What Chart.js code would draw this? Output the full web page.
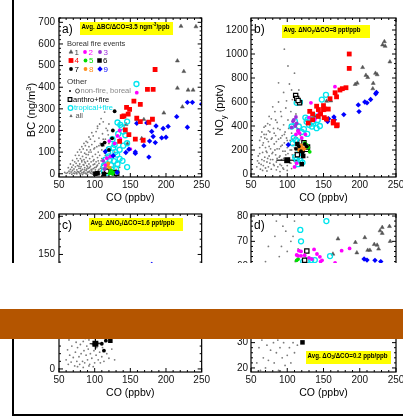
<!DOCTYPE html>
<html>
<head>
<meta charset="utf-8">
<script src="https://cdn.jsdelivr.net/npm/chart.js@4.4.0/dist/chart.umd.min.js"></script>
<style>
body { margin:0; width:403px; height:416px; position:relative; background:#fff; overflow:hidden; }
canvas { position:absolute; }
#frameL { position:absolute; left:12px; top:0; width:2px; height:416px; background:#000; }
#frameB { position:absolute; left:12px; top:414px; width:391px; height:2px; background:#000; }
#gap { position:absolute; left:0; top:263px; width:403px; height:46px; background:#fff; }
#band { position:absolute; left:0; top:309px; width:403px; height:30px; background:#b45500; }
</style>
</head>
<body>
<div id="frameL"></div>
<div id="frameB"></div>
<canvas id="ca" width="212" height="207" style="left:0;top:0"></canvas>
<canvas id="cb" width="205" height="207" style="left:205px;top:0"></canvas>
<canvas id="cc" width="212" height="207" style="left:0;top:196px"></canvas>
<canvas id="cd" width="205" height="207" style="left:205px;top:196px"></canvas>
<div id="gap"></div>
<div id="band"></div>
<script>
// ---- data: [CO (ppbv), value] pairs ----

// panel a) BC (ng/m3)
const aAll = [[62,5],[64,12],[65,2],[66,20],[67,8],[68,30],[69,15],[70,3],[70,40],[71,22],[72,10],[72,55],[73,32],[74,5],[74,48],[75,18],[75,70],[76,38],[77,9],[77,60],[78,25],[78,85],[79,45],[80,12],[80,70],[81,33],[81,100],[82,55],[82,4],[83,20],[83,80],[84,42],[84,115],[85,65],[85,10],[86,28],[86,95],[87,50],[87,130],[88,15],[88,75],[89,38],[89,110],[90,6],[90,58],[90,145],[91,25],[91,88],[92,45],[92,125],[93,12],[93,70],[94,160],[94,35],[95,100],[95,55],[96,20],[96,135],[97,80],[97,5],[98,175],[98,42],[99,115],[99,65],[100,28],[100,150],[101,90],[101,10],[102,195],[102,55],[103,125],[103,35],[104,75],[104,210],[105,15],[105,100],[106,165],[106,48],[107,230],[107,85],[108,25],[108,140],[109,60],[109,255],[110,110],[110,8],[111,185],[111,40],[112,70],[112,240],[113,130],[113,20],[114,285],[114,95],[115,160],[115,50],[116,30],[116,210],[117,120],[118,75],[118,10],[119,180],[120,45],[120,140],[121,90],[122,25],[123,110],[124,60],[125,15],[126,80],[127,40],[128,100],[130,20],[132,55],[135,30],[75,0],[80,-2],[85,3],[90,-3],[95,2],[88,0],[92,8],[97,-2],[103,3],[107,-1],[111,2],[68,-2],[72,1],[78,6],[83,-4],[100,0],[105,-3],[60,2],[58,6],[63,28],[66,45],[69,62],[73,85],[76,100],[79,112],[82,125],[85,140],[88,150],[92,170],[96,190],[104,220],
  [76,10],[79,2],[81,15],[84,6],[86,18],[87,3],[89,22],[91,10],[93,28],[94,4],[96,12],[98,24],[99,6],[101,18],[102,30],[103,8],[104,40],[106,20],[106,4],[108,12],[109,32],[110,22],[112,8],[113,45],[114,14],[116,6],[117,35],[119,22],[121,6],[123,30],[80,25],[85,40],[90,32],[95,18],[100,45],[105,60],[110,70],[115,85],[82,62],[88,90],[94,110],[100,120],[106,130],[112,160],[118,200],[120,230],[98,60],[92,100],[86,55],[78,35]];
const aEv1 = [[221,682],[242,680],[216,522],[225,473],[216,396],[231,387],[238,387],[223,309],[197,281],[159,251],[169,251],[144,228],[146,139],[166,163]];
const aEv2 = [[159,375],[135,200],[136,161],[120.5,151],[150,114],[122,80],[117,72],[132,175],[128,140],[115,40]];
const aEv3 = [[112,60],[114,22]];
const aEv4 = [[184.7,482],[174,390],[182,390],[155,336],[164,321],[149,298],[144.7,307],[138.6,264],[141,267],[147,276],[164,241],[176,238],[143,203],[157,160],[168,155],[135,150],[148,181],[159,257],[181,252]];
const aEv5 = [[122.7,11],[124,3],[125,0],[123,16],[126,6],[121,2]];
const aEv6 = [[101,0],[104,2],[113,-2]];
const aEv7 = [[128,289],[125.5,200],[124.5,164],[114,144],[110.6,134],[120,110]];
const aEv8 = [[119,48],[121,28],[118,36]];
const aEv9 = [[230,330],[237,330],[250,322],[215,264],[230,215],[159,233],[173,235],[186,221],[196,209],[203,219],[200,169],[194,166],[180,195],[182,172],[185,144],[177,151],[169,130],[148,113],[157,101],[176,77],[126,83],[115,103],[143.7,98],[157,94],[131.5,6]];
const aAnthro = [[128,5],[131,2],[117,12]];
const aTrop = [[158.6,415],[132,237],[136,226],[138,215],[145.5,241],[133,184],[143,178],[140,195],[145.5,141],[128,134],[120,114],[126,120],[135,111],[131.5,88],[120,80],[115,65],[121,65],[127,58],[135,69],[139,60],[145.5,31],[113,37],[117,28],[123,40],[132,45],[113,11],[118,5],[124,18],[130,22],[119,95],[129,100],[140,130],[125,160]];

// panel b) NOy (pptv)
const bAll = [[58,60],[60,150],[61,90],[62,220],[63,40],[64,310],[65,120],[66,180],[67,70],[67,260],[68,390],[69,140],[70,50],[70,220],[71,330],[72,100],[72,180],[73,420],[74,60],[74,270],[75,150],[76,350],[76,90],[77,210],[78,40],[78,460],[79,300],[80,120],[80,180],[81,380],[82,70],[82,250],[83,520],[84,160],[84,320],[85,100],[86,430],[86,210],[87,60],[88,290],[88,600],[89,140],[90,370],[90,80],[91,230],[92,480],[92,120],[93,320],[94,50],[94,190],[95,680],[95,410],[96,260],[97,100],[97,350],[98,160],[98,550],[99,300],[100,70],[100,220],[101,450],[102,130],[102,380],[103,750],[104,200],[104,280],[105,90],[105,520],[106,340],[107,160],[107,620],[108,240],[109,110],[109,420],[110,300],[110,840],[111,180],[112,60],[112,500],[113,260],[114,380],[115,140],[116,700],[117,220],[118,320],[120,160],[122,260],[125,200],[128,140],[96,1040],[88,760],[101,900],[65,350],[62,280],[59,110],[70,400],[75,480],[80,560],[66,30],[72,25],[85,35],[90,20],[95,40],[100,30],[106,45],
  [62,170],[64,80],[66,240],[68,110],[69,300],[71,190],[73,130],[74,360],[75,230],[77,120],[78,290],[79,170],[81,80],[82,340],[83,200],[85,270],[86,130],[87,380],[89,210],[90,150],[91,300],[92,70],[93,240],[95,130],[96,330],[97,190],[99,110],[100,280],[101,170],[103,240],[104,90],[106,200],[107,290],[108,140],[110,220],[111,100],[113,170],[114,300],[116,120],[117,280],[119,200],[121,130],[123,180],[68,330],[72,290],[76,410],[84,450],[91,520],[99,610],[106,700]];
const bEv1 = [[231.5,1076],[234,1104],[235,1065],[241.6,935],[204,888],[208.5,823],[211,805],[221.7,840],[224,828],[218.6,756],[218,711],[196.5,758],[193.7,747],[169,396],[154.3,607],[160,610],[138,480]];
const bEv2 = [[165.8,728],[142.8,540],[138,455],[132.7,593],[125,330],[115,354],[117,340],[112,330],[120,300],[110,59],[113,90],[144,505],[130,470]];
const bEv3 = [[112,475],[109,450],[113,422],[106,388],[111,400],[115,365],[108,440]];
const bEv4 = [[185.5,1000],[185.5,880],[181,719],[176,711],[172.7,700],[168,643],[166,677],[159,627],[151,542],[150,570],[140.5,565],[156.6,541],[150,536],[143,537],[142.8,480],[146,500],[135,500],[131,522],[135,452],[129,425],[151,470],[154,458],[163.5,438],[163.4,425],[169,410],[168,402]];
const bEv5 = [[131,185],[126.7,242],[129,220],[124,260]];
const bEv6 = [[120,82],[114,250],[122,150]];
const bEv7 = [[124.4,250],[116,230],[119,190],[112,210],[127,230],[121,175]];
const bEv8 = [[117.5,214],[120,222],[116,200],[122,205],[119,240],[124,215]];
const bEv9 = [[222,669],[223,680],[215,621],[210,593],[207,600],[198,576],[199,520],[178,495],[164.4,475],[157,460],[165,452],[155.7,438],[101.4,244]];
const bAnthro = [[111.6,655],[113,630],[117,593],[115,612],[126.7,205],[120,200],[128,225],[123,260],[114,160]];
const bTrop = [[153.4,660],[147.7,620],[117.5,598],[113,593],[110.6,438],[116,396],[126.7,435],[131,458],[138.2,480],[123,374],[127.6,334],[140.5,382],[135,440],[107.5,256],[112,280],[115.2,166],[111,140],[115,82],[118,110],[121,95],[113,120],[120,350],[106,396],[130,410],[134,395],[145,400],[136,420],[142,450],[125,470],[128,455],[109,300],[118,270]];
const bMean = [[100,115]];
const bMeanErr = [[85,115],[115,115]];

// panel c) NOz (pptv)
const cAll = [[60,12],[62,25],[63,6],[64,38],[65,18],[66,50],[67,9],[68,30],[69,62],[70,15],[71,42],[72,4],[72,75],[73,22],[74,35],[75,10],[75,55],[76,28],[77,85],[78,16],[78,44],[79,6],[80,32],[80,65],[81,20],[82,48],[83,10],[83,90],[84,36],[85,24],[86,58],[86,8],[87,40],[88,18],[88,72],[89,30],[90,12],[90,50],[91,26],[92,38],[93,6],[93,66],[94,20],[95,44],[96,14],[97,32],[98,56],[99,24],[100,8],[101,40],[102,18],[103,28],[104,50],[105,12],[106,34],[107,22],[108,8],[109,42],[110,16],[111,28],[113,10],[115,36],[117,20],[120,14],[124,26],[128,12],[76,3],[84,2],[92,4],[98,3]];
const cEv6 = [[122,37]];
const cEv7 = [[110,33],[115.7,37],[113,24]];
const cEv9 = [[180,137]];
const cMean = [[101,33]];
const cMeanErrX = [[93,33],[108,33]];
const cMeanErrY = [[101,25],[101,40]];

// panel d) O3 (ppbv)
const dAll = [[58,22],[60,35],[61,28],[62,48],[63,19],[64,40],[65,31],[66,56],[67,24],[68,44],[69,36],[70,20],[70,62],[71,50],[72,29],[73,41],[74,68],[74,23],[75,34],[76,52],[77,27],[78,45],[78,18],[79,38],[80,60],[81,30],[82,22],[82,48],[83,72],[84,36],[85,26],[86,55],[87,31],[88,42],[88,19],[89,64],[90,28],[91,50],[92,35],[93,24],[94,46],[94,76],[95,30],[96,58],[97,21],[98,40],[99,33],[100,66],[100,25],[101,52],[102,37],[103,28],[104,44],[105,70],[105,22],[106,34],[107,56],[108,30],[109,47],[110,26],[111,62],[112,38],[113,53],[114,29],[115,67],[116,42],[118,35],[120,58],[122,45],[125,64],[128,50],[85,78],[92,68],[98,74],[108,72],[110,78]];
const dEv1 = [[170,71],[194,69.6],[207,71.5],[196,65.5],[211,66.5],[214,66.5],[220,68.8],[224,68.5],[228,74.2],[231,75.5],[231,73.2],[241,75.9],[242,70],[163,65],[226,67]];
const dEv2 = [[116,66.3],[119,66],[137,66.8],[175,66.3],[186,67.2],[115,64.3],[119,64.3],[141,65],[124,64.5],[130,63.5],[146,62],[134,63],[113,64.6],[145,63.9],[148,62.5],[166,61.5]];
const dEv5 = [[115,63],[113,62.5]];
const dEv6 = [[121,30.1]];
const dEv9 = [[206,63],[210,62.6],[221,62.5],[229,62]];
const dAnthro = [[127,66.2],[124,62.5]];
const dTrop = [[154,78],[118,74.5],[119,70],[122,62],[128,62.5],[133,62.6],[138,62.6],[159,64.2]];

// ---- styles ----
const STY = {
  all:    { pointStyle:'circle',   pointRadius:0.9, backgroundColor:'#7a7a7a', borderColor:'#7a7a7a', borderWidth:0, order:10 },
  ev1:    { pointStyle:'triangle', pointRadius:2.3, backgroundColor:'#555', borderColor:'#555', borderWidth:0.5 },
  ev2:    { pointStyle:'circle',   pointRadius:1.9, backgroundColor:'#ff00ff', borderColor:'#ff00ff', borderWidth:0 },
  ev3:    { pointStyle:'circle',   pointRadius:1.9, backgroundColor:'#9b30d9', borderColor:'#9b30d9', borderWidth:0 },
  ev4:    { pointStyle:'rect',     pointRadius:3.4, backgroundColor:'#ff0000', borderColor:'#ff0000', borderWidth:0 },
  ev5:    { pointStyle:'circle',   pointRadius:1.9, backgroundColor:'#00dd00', borderColor:'#00dd00', borderWidth:0 },
  ev6:    { pointStyle:'rect',     pointRadius:3.2, backgroundColor:'#000', borderColor:'#000', borderWidth:0 },
  ev7:    { pointStyle:'circle',   pointRadius:1.9, backgroundColor:'#000', borderColor:'#000', borderWidth:0 },
  ev8:    { pointStyle:'circle',   pointRadius:1.9, backgroundColor:'#ff8c1a', borderColor:'#ff8c1a', borderWidth:0 },
  ev9:    { pointStyle:'rectRot',  pointRadius:2.7, backgroundColor:'#0000ff', borderColor:'#0000ff', borderWidth:0 },
  anthro: { pointStyle:'rect',     pointRadius:3.0, backgroundColor:'#fff', borderColor:'#000', borderWidth:1.2 },
  trop:   { pointStyle:'circle',   pointRadius:2.5, backgroundColor:'rgba(0,0,0,0)', borderColor:'#00e5ee', borderWidth:1.3 },
  mean:   { pointStyle:'rect',     pointRadius:4.2, backgroundColor:'#000', borderColor:'#000', borderWidth:0 }
};

const FONT = '"Liberation Sans", Arial, Helvetica, sans-serif';

function pts(arr) { return arr.map(([x, y]) => ({ x, y })); }

function scatterSet(key, arr) {
  const s = STY[key];
  return Object.assign({ type:'scatter', data: pts(arr), order: s.order || 0 }, s);
}

function errLine(arr) {
  return { type:'line', data: pts(arr), borderColor:'#000', borderWidth:1.2, pointRadius:0, showLine:true, order:1 };
}

// text with sub/superscripts; optional squeeze to maxW
function rich(ctx, segs, x, y, size, bold, color, align, maxW) {
  const f = s => (bold ? 'bold ' : '') + s + 'px ' + FONT;
  let w = 0;
  segs.forEach(s => { ctx.font = f(s.sub || s.sup ? size * 0.7 : size); w += ctx.measureText(s.t).width; });
  const k = maxW ? maxW / w : 1;
  ctx.save();
  ctx.translate(align === 'center' ? x - w * k / 2 : x, y);
  ctx.scale(k, 1);
  let cx = 0;
  ctx.fillStyle = color;
  ctx.textAlign = 'left';
  ctx.textBaseline = 'alphabetic';
  segs.forEach(s => {
    const sz = s.sub || s.sup ? size * 0.7 : size;
    ctx.font = f(sz);
    const dy = s.sub ? size * 0.25 : s.sup ? -size * 0.4 : 0;
    ctx.fillText(s.t, cx, dy);
    cx += ctx.measureText(s.t).width;
  });
  ctx.restore();
}

function drawLegend(ctx) {
  const dp = (key, x, y, r) => {
    const s = STY[key];
    ctx.fillStyle = s.backgroundColor;
    ctx.strokeStyle = s.borderColor;
    ctx.lineWidth = s.borderWidth;
    Chart.helpers.drawPoint(ctx, { pointStyle: s.pointStyle, radius: r || s.pointRadius, rotation: 0, borderWidth: s.borderWidth }, x, y);
  };
  ctx.textBaseline = 'middle';
  ctx.textAlign = 'left';
  ctx.font = '7.5px ' + FONT;
  ctx.fillStyle = '#333';
  ctx.fillText('Boreal fire events', 67, 43.5);
  const items = [
    ['ev1', 71, 52, '1', '#444'], ['ev2', 85, 52, '2', '#ff00ff'], ['ev3', 100, 52, '3', '#9b30d9'],
    ['ev4', 71, 60.5, '4', '#ff0000'], ['ev5', 85.5, 60.5, '5', '#00dd00'], ['ev6', 99.5, 60.5, '6', '#000'],
    ['ev7', 71, 69, '7', '#000'], ['ev8', 85.5, 69, '8', '#ff8c1a'], ['ev9', 100, 69, '9', '#0000ff']
  ];
  items.forEach(([k, x, y, t, c]) => {
    dp(k, x, y);
    ctx.font = '8px ' + FONT;
    ctx.fillStyle = c;
    ctx.textBaseline = 'middle';
    ctx.fillText(t, x + 3.5, y + 0.5);
  });
  ctx.font = '8px ' + FONT;
  ctx.fillStyle = '#333';
  ctx.fillText('Other', 67, 82);
  // non-fire, boreal
  ctx.fillStyle = '#000';
  ctx.beginPath(); ctx.arc(70, 91, 1, 0, Math.PI * 2); ctx.fill();
  ctx.strokeStyle = '#555'; ctx.lineWidth = 1;
  ctx.beginPath(); ctx.arc(77.5, 91, 2, 0, Math.PI * 2); ctx.stroke();
  ctx.font = '7.5px ' + FONT;
  ctx.fillStyle = '#888';
  ctx.fillText('non-fire, boreal', 80.5, 91);
  dp('anthro', 70, 99.5, 2.6);
  ctx.font = '7.5px ' + FONT;
  ctx.fillStyle = '#000';
  ctx.fillText('anthro+fire', 73, 99.5);
  dp('trop', 70.5, 108, 2.3);
  ctx.font = '7.5px ' + FONT;
  ctx.fillStyle = '#00e5ee';
  ctx.fillText('tropical+fire', 74, 108);
  dp('ev1', 71, 116, 1.4);
  ctx.font = '7.5px ' + FONT;
  ctx.fillStyle = '#555';
  ctx.fillText('all', 75.5, 116);
}

const deco = {
  id: 'deco',
  afterDatasetsDraw(chart, args, o) {
    const { ctx, chartArea: a, scales: { x, y } } = chart;
    ctx.save();
    ctx.strokeStyle = '#000';
    ctx.lineWidth = 1.2;
    ctx.strokeRect(a.left, a.top, a.right - a.left, a.bottom - a.top);
    ctx.lineWidth = 1;
    const line = (x1, y1, x2, y2) => { ctx.beginPath(); ctx.moveTo(x1, y1); ctx.lineTo(x2, y2); ctx.stroke(); };
    // x ticks: major 50, minor 10
    for (let i = 0; i <= 20; i++) {
      const v = 50 + i * 10;
      const p = x.getPixelForValue(v);
      const len = i % 5 === 0 ? 4 : 2;
      line(p, a.bottom, p, a.bottom - len);
      line(p, a.top, p, a.top + len);
    }
    // y ticks
    const start = Math.ceil(y.min / o.yMinor);
    const end = Math.floor(y.max / o.yMinor);
    for (let i = start; i <= end; i++) {
      const v = i * o.yMinor;
      const p = y.getPixelForValue(v);
      const len = i % 5 === 0 ? 4 : 2;
      line(a.left, p, a.left + len, p);
      line(a.right, p, a.right - len, p);
    }
    // panel letter
    ctx.font = '12px ' + FONT;
    ctx.fillStyle = '#000';
    ctx.textAlign = 'left';
    ctx.textBaseline = 'middle';
    ctx.fillText(o.letter, a.left + 3, a.top + 12);
    // yellow box
    const b = o.box;
    ctx.fillStyle = '#ffff00';
    ctx.fillRect(b.x, b.y, b.w, b.h);
    rich(ctx, b.segs, b.x + 1.5, b.y + 6.5, 6.8, true, '#000', 'left', b.tw);
    // axis titles
    rich(ctx, [{ t: 'CO (ppbv)' }], (a.left + a.right) / 2, a.bottom + 24, 10.5, false, '#000', 'center');
    ctx.save();
    ctx.translate(o.ytX, o.ytY);
    ctx.rotate(-Math.PI / 2);
    rich(ctx, o.ytitle, 0, 4, 11, false, '#000', 'center');
    ctx.restore();
    if (o.legend) drawLegend(ctx);
    ctx.restore();
  }
};

function makeChart(id, p) {
  const datasets = p.sets;
  new Chart(document.getElementById(id), {
    data: { datasets },
    options: {
      responsive: false,
      animation: false,
      devicePixelRatio: 1,
      layout: { padding: p.pad },
      plugins: { legend: { display:false }, tooltip: { enabled:false }, deco: p.deco },
      scales: {
        x: {
          type: 'linear', position: 'bottom', min: 50, max: 250,
          grid: { display:false, drawTicks:false }, border: { display:false },
          ticks: { stepSize: 50, includeBounds:false, padding: 2, color:'#111', font: { family: FONT, size: 10 }, callback: v => String(v) },
          afterFit: s => { s.height = p.xH; }
        },
        y: {
          type: 'linear', position: 'left', min: p.yMin, max: p.yMax,
          grid: { display:false, drawTicks:false }, border: { display:false },
          ticks: { stepSize: p.yStep, includeBounds:false, padding: p.yPad, color:'#111', font: { family: FONT, size: 10 }, callback: v => String(v) },
          afterFit: s => { s.width = p.yW; }
        }
      }
    },
    plugins: [deco]
  });
}

makeChart('ca', {
  pad: { top:18, right:10, left:0, bottom:0 }, xH:30, yW:59, yMin:-15, yMax:720, yStep:100, yPad:4,
  sets: [
    scatterSet('ev4', aEv4), scatterSet('ev9', aEv9), scatterSet('ev2', aEv2), scatterSet('ev7', aEv7),
    scatterSet('ev3', aEv3), scatterSet('ev5', aEv5), scatterSet('ev6', aEv6), scatterSet('ev8', aEv8),
    scatterSet('anthro', aAnthro), scatterSet('trop', aTrop), scatterSet('ev1', aEv1), scatterSet('all', aAll)
  ],
  deco: {
    yMinor: 20, letter: 'a)', legend: true, ytX: 31, ytY: 110,
    ytitle: [{ t:'BC (ng/m' }, { t:'3', sup:true }, { t:')' }],
    box: { x:80, y:22, w:93, h:13, tw:88, segs: [{ t:'Avg. ΔBC/ΔCO=3.5 ngm' }, { t:'-3', sup:true }, { t:'/ppb' }] }
  }
});

makeChart('cb', {
  pad: { top:18, right:14, left:0, bottom:0 }, xH:30, yW:46, yMin:-25, yMax:1300, yStep:200, yPad:3,
  sets: [
    errLine(bMeanErr), scatterSet('mean', bMean),
    scatterSet('ev4', bEv4), scatterSet('ev9', bEv9), scatterSet('ev2', bEv2), scatterSet('ev7', bEv7),
    scatterSet('ev3', bEv3), scatterSet('ev5', bEv5), scatterSet('ev6', bEv6), scatterSet('ev8', bEv8),
    scatterSet('anthro', bAnthro), scatterSet('trop', bTrop), scatterSet('ev1', bEv1), scatterSet('all', bAll)
  ],
  deco: {
    yMinor: 40, letter: 'b)', ytX: 14, ytY: 110,
    ytitle: [{ t:'NO' }, { t:'y', sub:true }, { t:' (pptv)' }],
    box: { x:77, y:25, w:88, h:13, tw:77, segs: [{ t:'Avg. ΔNO' }, { t:'y', sub:true }, { t:'/ΔCO=8 ppt/ppb' }] }
  }
});

makeChart('cc', {
  pad: { top:18, right:10, left:0, bottom:0 }, xH:31, yW:59, yMin:-4, yMax:203, yStep:50, yPad:4,
  sets: [
    errLine(cMeanErrX), errLine(cMeanErrY), scatterSet('mean', cMean),
    scatterSet('ev6', cEv6), scatterSet('ev7', cEv7), scatterSet('ev9', cEv9), scatterSet('all', cAll)
  ],
  deco: {
    yMinor: 10, letter: 'c)', ytX: 31, ytY: 110,
    ytitle: [{ t:'NO' }, { t:'z', sub:true }, { t:' (pptv)' }],
    box: { x:89, y:22, w:94, h:13, tw:84, segs: [{ t:'Avg. ΔNO' }, { t:'z', sub:true }, { t:'/ΔCO=1.6 ppt/ppb' }] }
  }
});

makeChart('cd', {
  pad: { top:18, right:14, left:0, bottom:0 }, xH:31, yW:46, yMin:18.4, yMax:80.8, yStep:10, yPad:3,
  sets: [
    scatterSet('ev2', dEv2), scatterSet('ev9', dEv9), scatterSet('ev5', dEv5), scatterSet('ev6', dEv6),
    scatterSet('anthro', dAnthro), scatterSet('trop', dTrop), scatterSet('ev1', dEv1), scatterSet('all', dAll)
  ],
  deco: {
    yMinor: 2, letter: 'd)', ytX: 14, ytY: 110,
    ytitle: [{ t:'O' }, { t:'3', sub:true }, { t:' (ppbv)' }],
    box: { x:101, y:155, w:85, h:13, tw:80, segs: [{ t:'Avg. ΔO' }, { t:'3', sub:true }, { t:'/ΔCO=0.2 ppb/ppb' }] }
  }
});
</script>
</body>
</html>
